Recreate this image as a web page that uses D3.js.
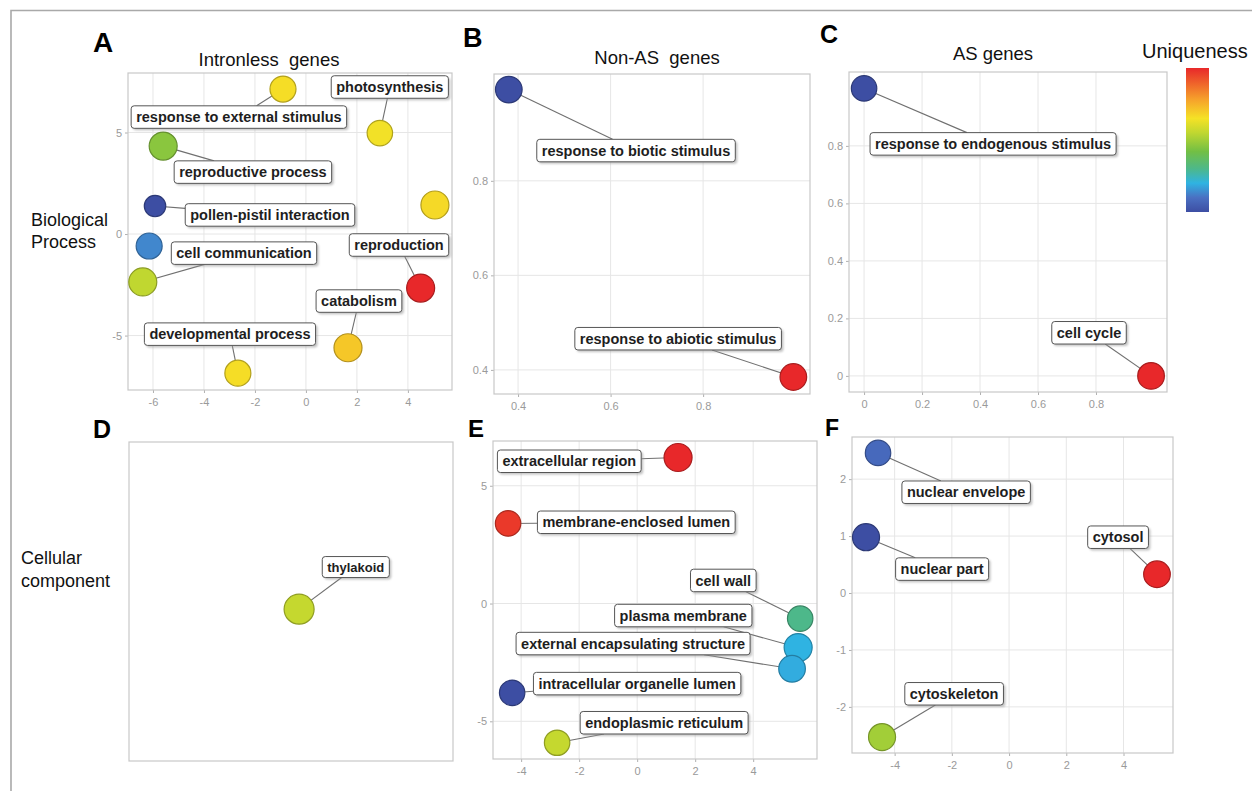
<!DOCTYPE html>
<html><head><meta charset="utf-8">
<script src="https://cdn.jsdelivr.net/npm/d3@7"></script>
<style>body{margin:0;background:#fff} svg{display:block;font-family:"Liberation Sans",Arial,sans-serif}</style>
</head><body><svg id="c" width="1252" height="791"></svg>
<script>
// ---------------- DATA ----------------
// Panel A: Intronless genes (Biological Process)
const termsA = ["response to external stimulus","photosynthesis","reproductive process","","pollen-pistil interaction","","cell communication","reproduction","catabolism","developmental process"];
const xA = [-0.9, 2.9, -5.6, 5.06, -5.92, -6.15, -6.4, 4.5, 1.65, -2.67];
const yA = [7.14, 4.97, 4.33, 1.43, 1.38, -0.59, -2.36, -2.66, -5.6, -6.85];
const uniqA = [0.66, 0.645, 0.46, 0.668, 0.0, 0.135, 0.55, 1.0, 0.705, 0.66];
const logSizeA = [2.25, 2.18, 2.5, 2.5, 1.68, 2.25, 2.5, 2.5, 2.5, 2.25];
const xTicksA = [-6, -4, -2, 0, 2, 4];
const yTicksA = [-5, 0, 5];

// Panel B: Non-AS genes
const termsB = ["response to biotic stimulus","response to abiotic stimulus"];
const xB = [0.38, 0.995];
const yB = [0.993, 0.385];
const uniqB = [0.0, 1.0];
const logSizeB = [2.33, 2.33];
const xTicksB = [0.4, 0.6, 0.8];
const yTicksB = [0.4, 0.6, 0.8];

// Panel C: AS genes
const termsC = ["response to endogenous stimulus","cell cycle"];
const xC = [0.0, 0.99];
const yC = [1.0, 0.0];
const uniqC = [0.0, 1.0];
const logSizeC = [2.18, 2.33];
const xTicksC = [0, 0.2, 0.4, 0.6, 0.8];
const yTicksC = [0, 0.2, 0.4, 0.6, 0.8];

// Panel D: Cellular component, intronless
const termsD = ["thylakoid"];
const xD = [0.525];
const yD = [0.476];
const uniqD = [0.56];
const logSizeD = [2.75];

// Panel E
const termsE = ["extracellular region","membrane-enclosed lumen","cell wall","plasma membrane","external encapsulating structure","intracellular organelle lumen","endoplasmic reticulum"];
const xE = [1.41, -4.45, 5.62, 5.55, 5.34, -4.31, -2.76];
const yE = [6.2, 3.4, -0.64, -1.87, -2.77, -3.79, -5.91];
const uniqE = [1.0, 0.97, 0.3, 0.2, 0.19, 0.0, 0.56];
const logSizeE = [2.5, 2.18, 2.18, 2.5, 2.33, 2.18, 2.18];
const xTicksE = [-4, -2, 0, 2, 4];
const yTicksE = [-5, 0, 5];

// Panel F
const termsF = ["nuclear envelope","nuclear part","cytosol","cytoskeleton"];
const xF = [-4.58, -5.0, 5.17, -4.44];
const yF = [2.46, 0.98, 0.33, -2.53];
const uniqF = [0.08, 0.0, 1.0, 0.5];
const logSizeF = [2.18, 2.38, 2.33, 2.38];
const xTicksF = [-4, -2, 0, 2, 4];
const yTicksF = [-2, -1, 0, 1, 2];

// Uniqueness colour ramp
const uniqStops = [0, 0.1, 0.2, 0.3, 0.42, 0.55, 0.65, 0.78, 1];
const uniqColors = ["#3d4ea3","#4a70c2","#2fb3e2","#4db88a","#72bf44","#c0d730","#f5e226","#f6a22b","#e8282a"];

// ---------------- LAYOUT (label anchors in data units, like ggrepel output) ----------------
const labelXA = [-2.63, 3.29, -2.08, null, -1.41, null, -2.43, 3.65, 2.08, -2.98];
const labelYA = [5.76, 7.24, 3.05, null, 0.94, null, -0.94, -0.54, -3.30, -4.93];
const labelXB = [0.655, 0.746], labelYB = [0.864, 0.466];
const labelXC = [0.445, 0.776], labelYC = [0.807, 0.150];
const labelXD = [0.70], labelYD = [0.608];
const labelXE = [-2.34, -0.03, 2.97, 1.59, -0.14, 0.0, 0.93];
const labelYE = [6.04, 3.45, 0.98, -0.51, -1.70, -3.40, -5.06];
const labelXF = [-1.50, -2.34, 3.81, -1.92];
const labelYF = [1.77, 0.42, 0.98, -1.77];

const svg = d3.select("#c");
const color = d3.scaleLinear().domain(uniqStops).range(uniqColors).clamp(true);
const rScale = d3.scaleLinear().domain([1, 3]).range([8, 16]);

// Outer frame
svg.append("path").attr("d", "M11,791 V10.5 H1252").attr("fill", "none").attr("stroke", "#a9a9a9").attr("stroke-width", 1.6);

// Shadow filter
const defs = svg.append("defs");
const f = defs.append("filter").attr("id", "sh").attr("x", "-10%").attr("y", "-30%").attr("width", "130%").attr("height", "170%");
f.append("feGaussianBlur").attr("stdDeviation", 1);

const panels = [
  {terms: termsA, x: xA, y: yA, u: uniqA, s: logSizeA, lx: labelXA, ly: labelYA, box: [128, 452, 73, 390], xd: [-6.98, 5.73], yd: [-7.68, 7.93], xt: xTicksA, yt: yTicksA, fs: 14.5},
  {terms: termsB, x: xB, y: yB, u: uniqB, s: logSizeB, lx: labelXB, ly: labelYB, box: [494, 810, 74, 394], xd: [0.348, 1.031], yd: [0.349, 1.026], xt: xTicksB, yt: yTicksB, fs: 14.5},
  {terms: termsC, x: xC, y: yC, u: uniqC, s: logSizeC, lx: labelXC, ly: labelYC, box: [849, 1167, 72, 392], xd: [-0.052, 1.045], yd: [-0.056, 1.057], xt: xTicksC, yt: yTicksC, fs: 14.5},
  {terms: termsD, x: xD, y: yD, u: uniqD, s: logSizeD, lx: labelXD, ly: labelYD, box: [129, 453, 442, 761], xd: [0, 1], yd: [0, 1], xt: null, yt: null, fs: 13},
  {terms: termsE, x: xE, y: yE, u: uniqE, s: logSizeE, lx: labelXE, ly: labelYE, box: [493, 817, 441, 759], xd: [-4.97, 6.2], yd: [-6.6, 6.9], xt: xTicksE, yt: yTicksE, fs: 14.5},
  {terms: termsF, x: xF, y: yF, u: uniqF, s: logSizeF, lx: labelXF, ly: labelYF, box: [852, 1173, 437, 753], xd: [-5.49, 5.73], yd: [-2.81, 2.74], xt: xTicksF, yt: yTicksF, fs: 14.5}
];

panels.forEach(p => {
  const [x0, x1, y0, y1] = p.box;
  const sx = d3.scaleLinear().domain(p.xd).range([x0, x1]);
  const sy = d3.scaleLinear().domain(p.yd).range([y1, y0]);
  const g = svg.append("g");
  if (p.xt) {
    g.append("g").selectAll("line").data(p.xt).join("line")
      .attr("x1", d => sx(d)).attr("x2", d => sx(d)).attr("y1", y0).attr("y2", y1)
      .attr("stroke", "#e6e6e6").attr("stroke-width", 1);
    g.append("g").selectAll("line").data(p.yt).join("line")
      .attr("y1", d => sy(d)).attr("y2", d => sy(d)).attr("x1", x0).attr("x2", x1)
      .attr("stroke", "#e6e6e6").attr("stroke-width", 1);
    const fmt = d => String(d);
    const ax = g.append("g").attr("transform", `translate(0,${y1})`)
      .call(d3.axisBottom(sx).tickValues(p.xt).tickFormat(fmt).tickSize(3).tickPadding(5));
    const ay = g.append("g").attr("transform", `translate(${x0},0)`)
      .call(d3.axisLeft(sy).tickValues(p.yt).tickFormat(fmt).tickSize(3).tickPadding(3));
    [ax, ay].forEach(a => {
      a.select(".domain").remove();
      a.selectAll("line").attr("stroke", "#b0b0b0");
      a.selectAll("text").attr("fill", "#9a9a9a").attr("font-size", 11).attr("font-family", "Liberation Sans, Arial, sans-serif");
    });
  }
  g.append("rect").attr("x", x0).attr("y", y0).attr("width", x1 - x0).attr("height", y1 - y0)
    .attr("fill", "none").attr("stroke", "#c8c8c8").attr("stroke-width", 1.2);

  const data = p.terms.map((t, i) => ({t, x: p.x[i], y: p.y[i], u: p.u[i], s: p.s[i], lx: p.lx[i], ly: p.ly[i]}));
  const labeled = data.filter(d => d.t !== "");

  // measure label sizes
  const lg = g.append("g");
  labeled.forEach(d => {
    const cx = sx(d.lx), cy = sy(d.ly);
    const tmp = lg.append("text").attr("font-size", p.fs).attr("font-weight", "bold").text(d.t);
    const w = tmp.node().getComputedTextLength();
    tmp.remove();
    d.bw = w + 10; d.bh = p.fs + 8; d.cx = cx; d.cy = cy;
  });
  // leader lines
  labeled.forEach(d => {
    const px = sx(d.x), py = sy(d.y);
    const dx = px - d.cx, dy = py - d.cy;
    const hw = d.bw / 2, hh = d.bh / 2;
    const t = Math.min(dx !== 0 ? hw / Math.abs(dx) : Infinity, dy !== 0 ? hh / Math.abs(dy) : Infinity);
    if (t < 1) {
      g.append("line").attr("x1", px).attr("y1", py).attr("x2", d.cx + dx * t).attr("y2", d.cy + dy * t)
        .attr("stroke", "#707070").attr("stroke-width", 1.1);
    }
  });
  // bubbles
  g.append("g").selectAll("circle").data(data).join("circle")
    .attr("cx", d => sx(d.x)).attr("cy", d => sy(d.y)).attr("r", d => rScale(d.s))
    .attr("fill", d => color(d.u))
    .attr("stroke", d => d3.color(color(d.u)).darker(0.9)).attr("stroke-width", 1.2);
  // labels
  labeled.forEach(d => {
    const lgg = g.append("g");
    lgg.append("rect").attr("x", d.cx - d.bw / 2 + 2).attr("y", d.cy - d.bh / 2 + 2).attr("width", d.bw).attr("height", d.bh)
      .attr("rx", 3).attr("fill", "#9a9a9a").attr("opacity", 0.6).attr("filter", "url(#sh)");
    lgg.append("rect").attr("x", d.cx - d.bw / 2).attr("y", d.cy - d.bh / 2).attr("width", d.bw).attr("height", d.bh)
      .attr("rx", 3).attr("fill", "#fff").attr("stroke", "#555").attr("stroke-width", 1);
    lgg.append("text").attr("x", d.cx).attr("y", d.cy).attr("dy", "0.36em").attr("text-anchor", "middle")
      .attr("font-size", p.fs).attr("font-weight", "bold").attr("fill", "#1e1e1e").text(d.t);
  });
});

// Panel letters
const letters = [["A", 93, 52, 28], ["B", 463, 47, 27], ["C", 820, 43, 25], ["D", 93, 438, 25], ["E", 468, 437, 24], ["F", 825, 436, 23]];
svg.selectAll("text.letter").data(letters).join("text").attr("class", "letter")
  .attr("x", d => d[1]).attr("y", d => d[2]).attr("font-size", d => d[3]).attr("font-weight", "bold").attr("fill", "#000").text(d => d[0]);

// Titles
const titles = [["Intronless  genes", 269, 66], ["Non-AS  genes", 657, 64], ["AS genes", 993, 60]];
svg.selectAll("text.title").data(titles).join("text").attr("class", "title")
  .attr("x", d => d[1]).attr("y", d => d[2]).attr("text-anchor", "middle").attr("font-size", 18.5)
  .style("white-space", "pre").attr("fill", "#111").text(d => d[0]);

// Row labels
const rowLabels = [["Biological", 31, 226], ["Process", 31, 248], ["Cellular", 21, 564], ["component", 21, 587]];
svg.selectAll("text.row").data(rowLabels).join("text").attr("class", "row")
  .attr("x", d => d[1]).attr("y", d => d[2]).attr("font-size", 18).attr("fill", "#111").text(d => d[0]);

// Legend
svg.append("text").attr("x", 1142).attr("y", 58).attr("font-size", 20).attr("fill", "#111").text("Uniqueness");
const grad = defs.append("linearGradient").attr("id", "ug").attr("x1", 0).attr("y1", 1).attr("x2", 0).attr("y2", 0);
uniqStops.forEach((s, i) => grad.append("stop").attr("offset", s).attr("stop-color", uniqColors[i]));
svg.append("rect").attr("x", 1186).attr("y", 68).attr("width", 23).attr("height", 144).attr("fill", "url(#ug)");
</script></body></html>
